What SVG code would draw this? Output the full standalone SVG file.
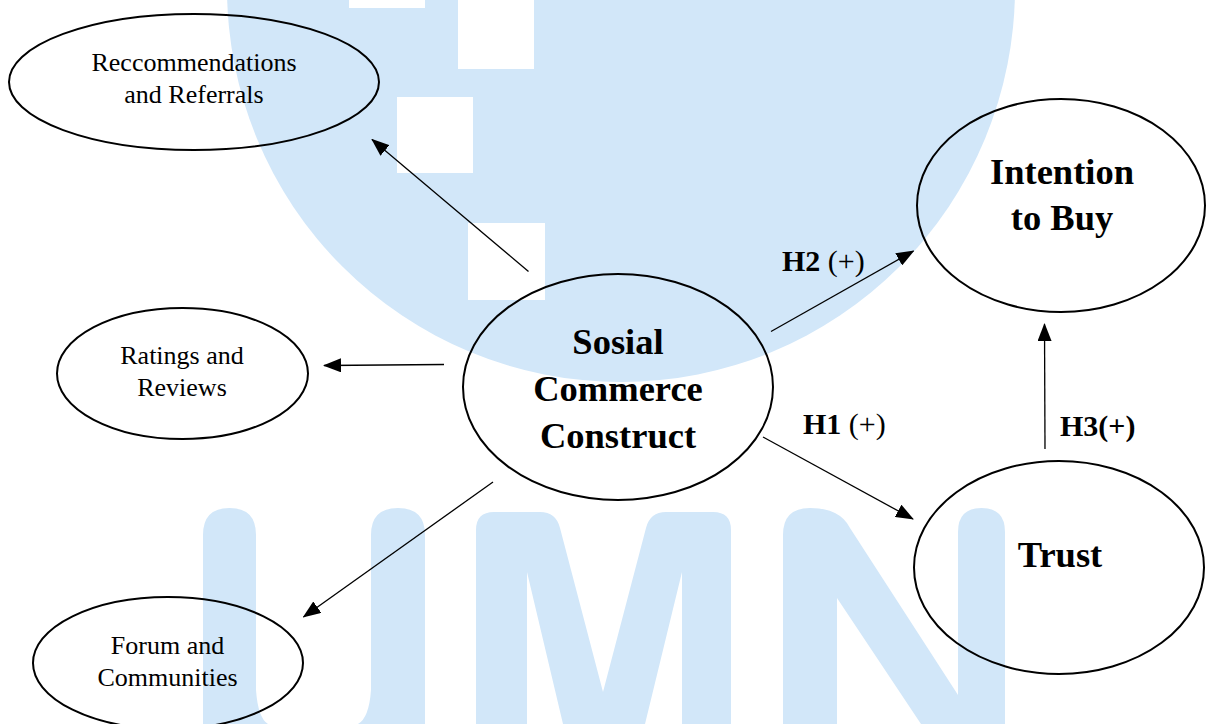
<svg xmlns="http://www.w3.org/2000/svg" width="1208" height="724" viewBox="0 0 1208 724">
<style>
.wm{fill:#d2e7f9;stroke:none}
.node{fill:none;stroke:#000;stroke-width:2}
.sm{font-family:"Liberation Serif","Times New Roman",serif;font-size:26px;fill:#000;text-anchor:middle}
.big{font-family:"Liberation Serif","Times New Roman",serif;font-size:36.5px;font-weight:bold;fill:#000;text-anchor:middle}
.hl{font-family:"Liberation Serif","Times New Roman",serif;font-size:30px;fill:#000}
.b{font-weight:bold}
.edge{stroke:#000;stroke-width:1.3;fill:none;marker-end:url(#ah)}
</style>
<defs>
<marker id="ah" markerUnits="userSpaceOnUse" markerWidth="18" markerHeight="14" refX="17" refY="7" orient="auto">
<path d="M0,0 L18,7 L0,14 Z" fill="#000"/>
</marker>
</defs>
<rect width="1208" height="724" fill="#fff"/>
<g id="watermark">
<circle class="wm" cx="621" cy="-12" r="394"/>
<rect x="349" y="0" width="76" height="8" fill="#fff"/>
<rect x="458" y="0" width="76" height="69" fill="#fff"/>
<rect x="397" y="97" width="76" height="76" fill="#fff"/>
<rect x="468" y="223" width="77" height="77" fill="#fff"/>
<path class="wm" d="M203,724 L203,535 Q203,508 229.5,508 Q256,508 256,535 L256,690 Q258,718 268,724 L358,724 Q369,718 371,690 L371,535 Q371,508 398,508 Q425,508 425,535 L425,724 Z"/>
<path class="wm" d="M476,724 L476,530 Q476,512 494,512 L540,512 Q556,512 560,528 L603,692 L646,528 Q650,512 666,512 L713,512 Q731,512 731,530 L731,724 L682,724 L682,572 L645,724 L563,724 L527,572 L527,724 Z"/>
<path class="wm" d="M783,724 L783,535 Q783,508 810,508 Q840,508 850,528 L958,695 L958,532 Q958,508 981.5,508 Q1005,508 1005,532 L1005,724 L921,724 L837,598 L837,724 Z"/>
</g>
<g id="connectors">
<line class="edge" x1="528.5" y1="271.5" x2="372" y2="139.5"/>
<line class="edge" x1="444" y1="364.5" x2="324" y2="365.5"/>
<line class="edge" x1="493" y1="482" x2="303.5" y2="617"/>
<line class="edge" x1="771" y1="331.5" x2="913.5" y2="251"/>
<line class="edge" x1="763" y1="437" x2="913" y2="519"/>
<line class="edge" x1="1045" y1="449" x2="1044.5" y2="324"/>
<text class="hl" x="782" y="271"><tspan class="b">H2</tspan> (+)</text>
<text class="hl" x="803" y="434"><tspan class="b">H1</tspan> (+)</text>
<text class="hl b" x="1060" y="436">H3(+)</text>
</g>
<g id="recommendations">
<ellipse class="node" cx="194" cy="82" rx="185" ry="68"/>
<text class="sm" x="194" y="71">Reccommendations</text>
<text class="sm" x="194" y="103">and Referrals</text>
</g>
<g id="ratings">
<ellipse class="node" cx="182.5" cy="373.5" rx="125.5" ry="65.5"/>
<text class="sm" x="182" y="364">Ratings and</text>
<text class="sm" x="182" y="396">Reviews</text>
</g>
<g id="forum">
<ellipse class="node" cx="168" cy="663" rx="135" ry="66"/>
<text class="sm" x="167.5" y="654">Forum and</text>
<text class="sm" x="167.5" y="686">Communities</text>
</g>
<g id="social-commerce">
<ellipse class="node" cx="618" cy="387" rx="155" ry="113"/>
<text class="big" x="618" y="354">Sosial</text>
<text class="big" x="618" y="401">Commerce</text>
<text class="big" x="618" y="448">Construct</text>
</g>
<g id="intention">
<ellipse class="node" cx="1061" cy="205.5" rx="144" ry="106.5"/>
<text class="big" x="1062" y="184">Intention</text>
<text class="big" x="1062" y="230">to Buy</text>
</g>
<g id="trust">
<ellipse class="node" cx="1059" cy="567.5" rx="145" ry="106.5"/>
<text class="big" x="1060" y="567">Trust</text>
</g>
</svg>
